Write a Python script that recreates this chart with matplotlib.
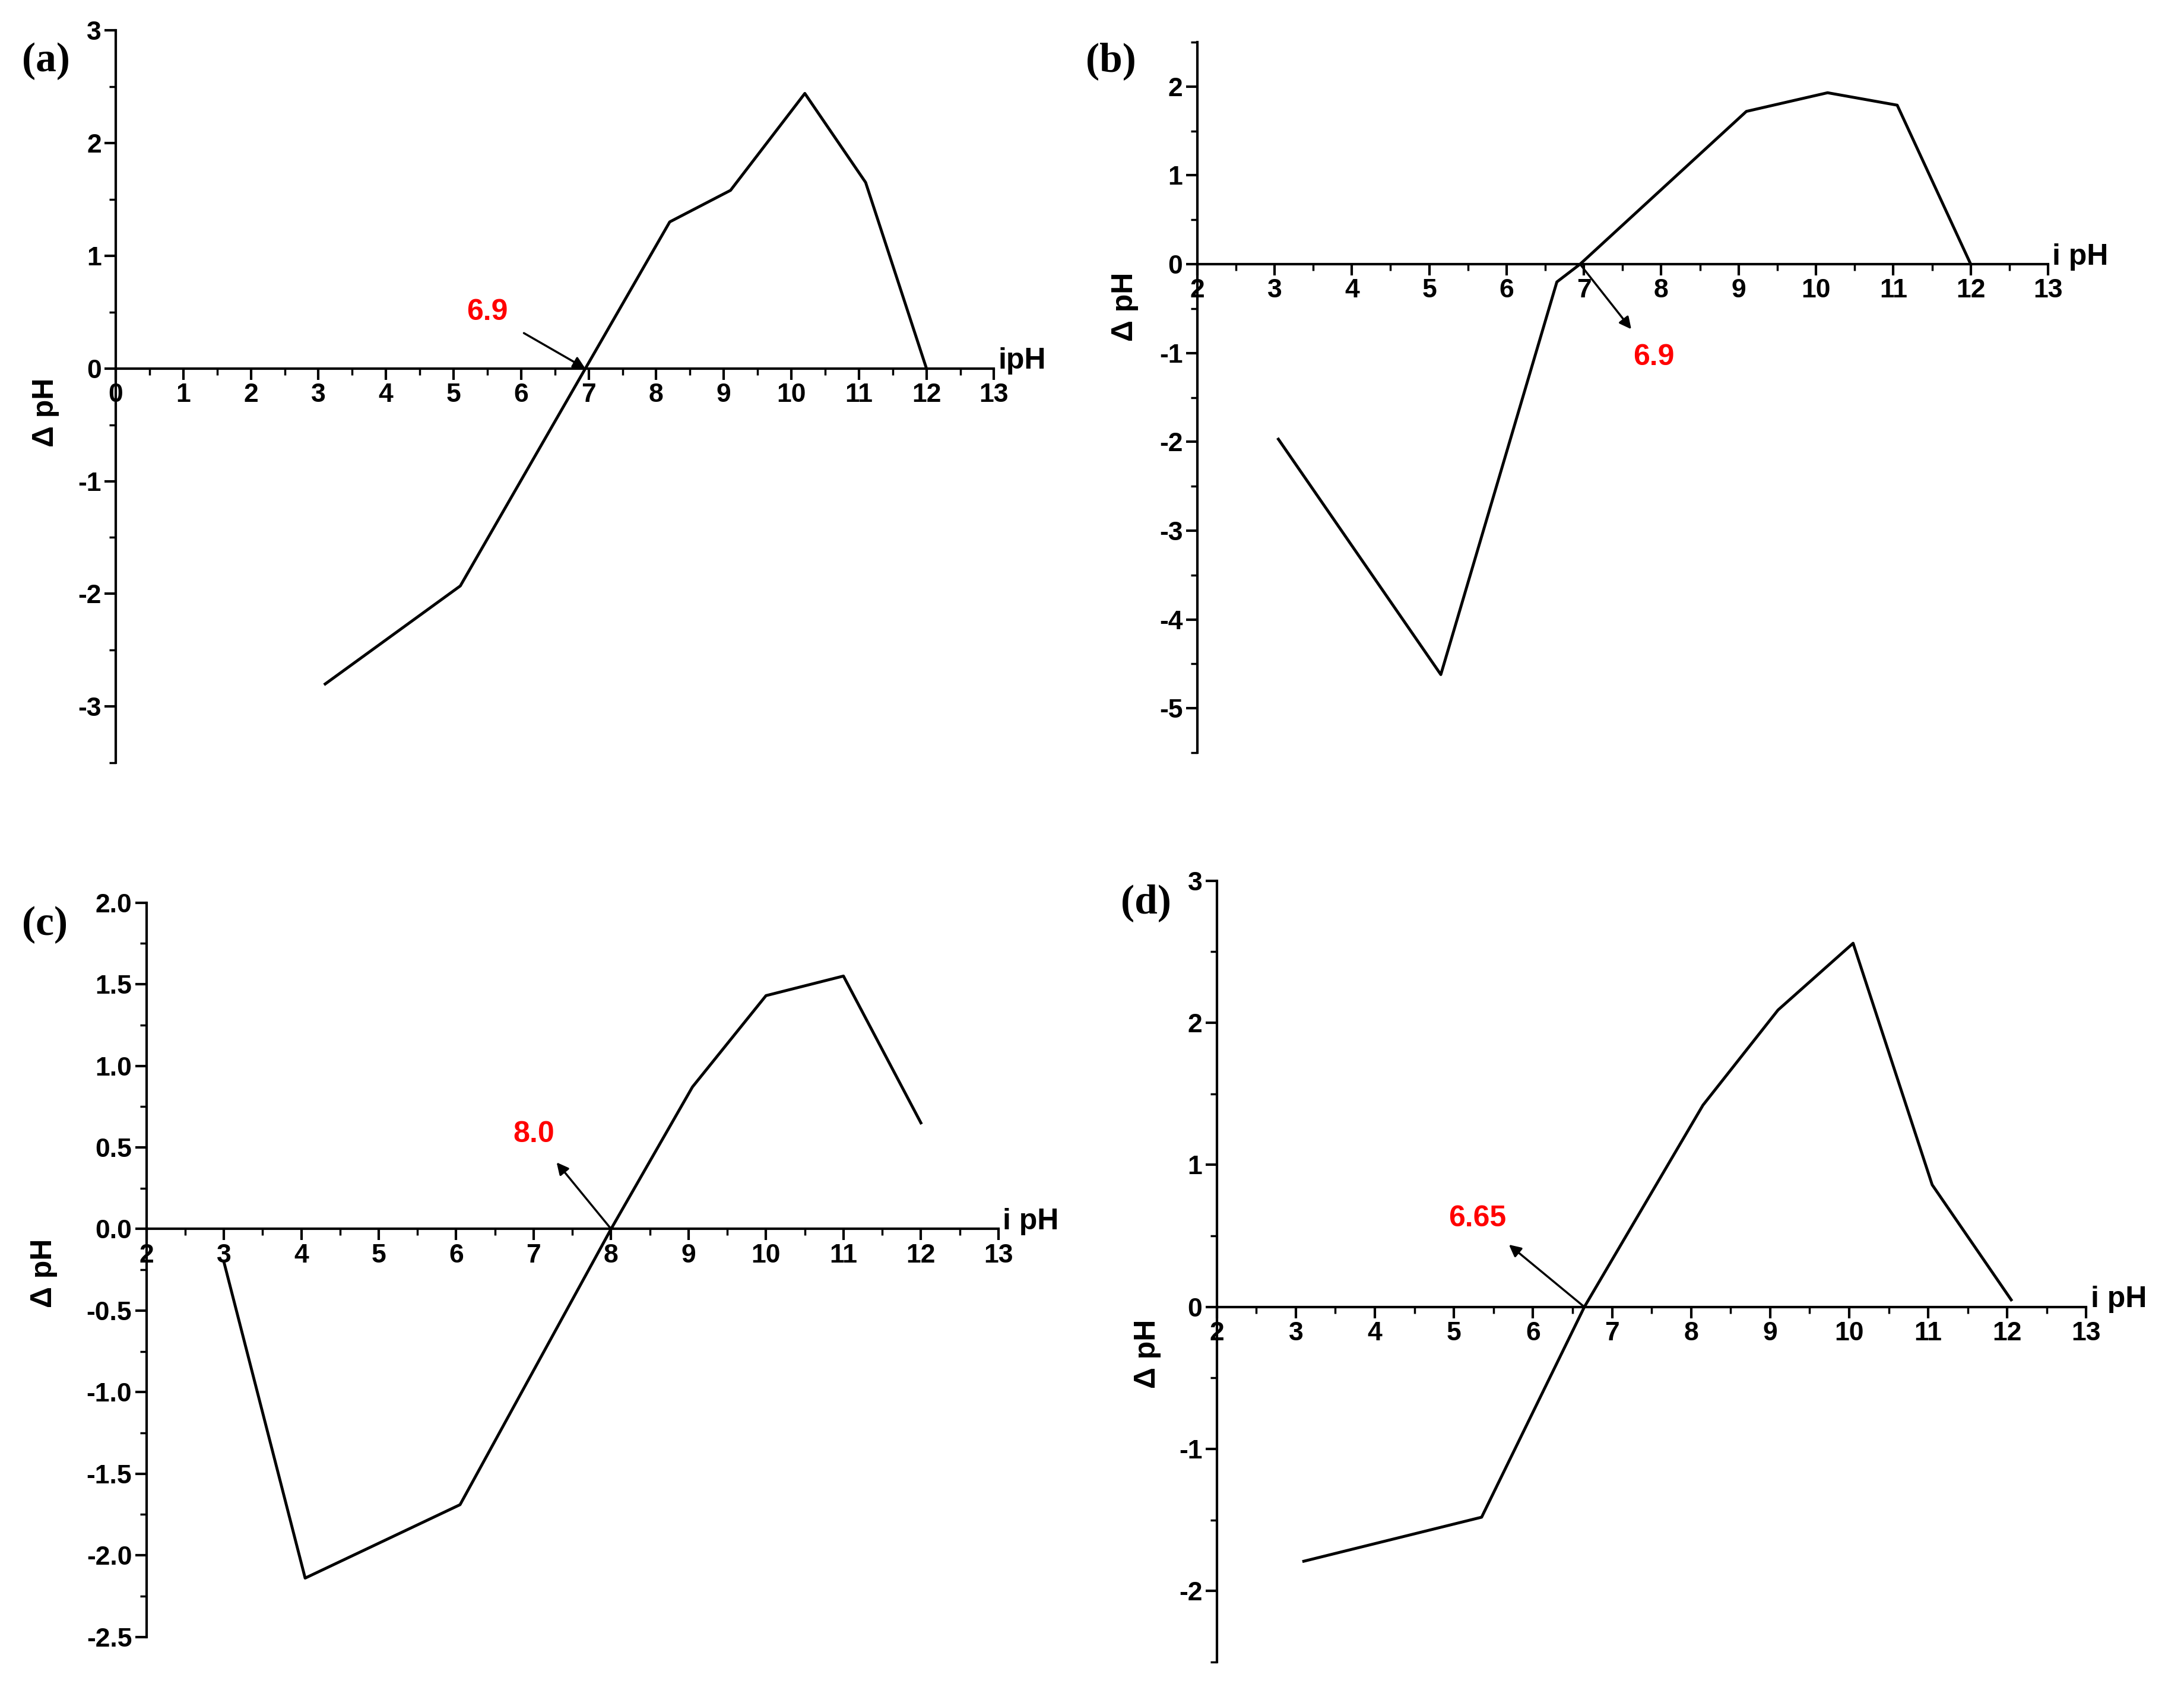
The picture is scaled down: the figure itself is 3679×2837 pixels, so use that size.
import matplotlib
matplotlib.use("Agg")
import matplotlib.pyplot as plt
from matplotlib.ticker import MultipleLocator

xa = [3.1, 5.1, 8.2, 9.1, 10.2, 11.1, 12.0]
ya = [-2.8, -1.93, 1.3, 1.58, 2.44, 1.65, 0.0]
xb = [3.05, 5.15, 6.65, 6.95, 9.1, 10.15, 11.05, 12.0]
yb = [-1.97, -4.62, -0.2, 0.0, 1.72, 1.93, 1.79, 0.0]
xc = [3.0, 4.05, 6.05, 8.0, 9.05, 10.0, 11.0, 12.0]
yc = [-0.2, -2.14, -1.69, 0.0, 0.87, 1.43, 1.55, 0.65]
xd = [3.1, 5.35, 6.65, 8.15, 9.1, 10.05, 11.05, 12.05]
yd = [-1.79, -1.48, 0.0, 1.42, 2.09, 2.56, 0.86, 0.05]

fig = plt.figure(figsize=(36.8, 28.37), dpi=100)
plt.rcParams['font.family'] = ['Liberation Sans', 'DejaVu Sans']

specs = [
    dict(rect=[0.053, 0.547, 0.402, 0.435], x=xa, y=ya, xlim=(0, 13), ylim=(-3.5, 3), ymaj=1, ymin=0.5,
         xlabel='ipH', lab='(a)', labpos=(0.01, 0.975), ann='6.9', xy=(6.95, 0), txt=(5.5, 0.5),
         style='-|>', fmt='{:.0f}', yl=-0.08),
    dict(rect=[0.548, 0.553, 0.3895, 0.422], x=xb, y=yb, xlim=(2, 13), ylim=(-5.5, 2.5), ymaj=1, ymin=0.5,
         xlabel='i pH', lab='(b)', labpos=(0.497, 0.975), ann='6.9', xy=(6.95, 0), txt=(7.9, -1.05),
         style='<|-', fmt='{:.0f}', yl=-0.085),
    dict(rect=[0.067, 0.028, 0.390, 0.436], x=xc, y=yc, xlim=(2, 13), ylim=(-2.5, 2.0), ymaj=0.5, ymin=0.25,
         xlabel='i pH', lab='(c)', labpos=(0.01, 0.462), ann='8.0', xy=(8.0, 0), txt=(7.0, 0.58),
         style='<|-', fmt='{:.1f}', yl=-0.12),
    dict(rect=[0.557, 0.013, 0.398, 0.464], x=xd, y=yd, xlim=(2, 13), ylim=(-2.5, 3), ymaj=1, ymin=0.5,
         xlabel='i pH', lab='(d)', labpos=(0.513, 0.475), ann='6.65', xy=(6.65, 0), txt=(5.3, 0.62),
         style='<|-', fmt='{:.0f}', yl=-0.08),
]

for s in specs:
    ax = fig.add_axes(s['rect'])
    ax.plot(s['x'], s['y'], color='black', lw=3.5)
    ax.set_xlim(*s['xlim'])
    ax.set_ylim(*s['ylim'])
    ax.spines['top'].set_visible(False)
    ax.spines['right'].set_visible(False)
    ax.spines['bottom'].set_position(('data', 0))
    for sp in ['left', 'bottom']:
        ax.spines[sp].set_linewidth(3)
    ax.xaxis.set_major_locator(MultipleLocator(1))
    ax.xaxis.set_minor_locator(MultipleLocator(0.5))
    ax.yaxis.set_major_locator(MultipleLocator(s['ymaj']))
    ax.yaxis.set_minor_locator(MultipleLocator(s['ymin']))
    ax.tick_params(which='major', length=14, width=3, labelsize=32, direction='out')
    ax.tick_params(which='minor', length=8, width=2.5, direction='out')
    yt = [t for t in ax.get_yticks() if s['ylim'][0] - 1e-9 <= t <= s['ylim'][1] + 1e-9]
    ax.set_yticks(yt)
    ax.set_yticklabels([s['fmt'].format(t) for t in yt], fontweight='bold')
    xt = list(range(int(s['xlim'][0]), int(s['xlim'][1]) + 1))
    ax.set_xticks(xt)
    ax.set_xticklabels([str(t) for t in xt], fontweight='bold')
    zero = -s['ylim'][0] / (s['ylim'][1] - s['ylim'][0])
    ax.text(1.005, zero + 0.01, s['xlabel'], transform=ax.transAxes,
            fontsize=36, fontweight='bold', va='center', ha='left')
    ax.text(s['yl'], zero - 0.06, 'Δ pH', transform=ax.transAxes,
            fontsize=36, fontweight='bold', rotation=90, va='center', ha='center')
    fig.text(s['labpos'][0], s['labpos'][1], s['lab'], fontsize=50,
             fontweight='bold', family='Liberation Serif', va='top', ha='left')
    ax.annotate(s['ann'], xy=s['xy'], xytext=s['txt'], color='red', fontsize=36, fontweight='bold',
                ha='center', va='center',
                arrowprops=dict(arrowstyle=s['style'], color='black', lw=2.5, mutation_scale=30,
                                shrinkA=20, shrinkB=0))

fig.savefig('out.png', dpi=100)
